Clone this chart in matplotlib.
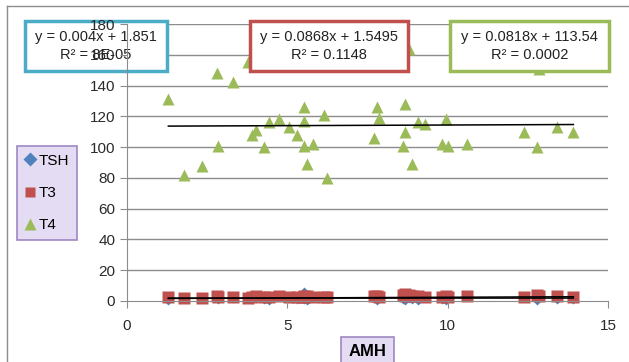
import matplotlib
matplotlib.use('Agg')
import matplotlib.pyplot as plt
from matplotlib.lines import Line2D
from matplotlib.patches import Rectangle
import numpy as np

W, H = 629, 362

amh = [1.29, 1.78, 2.33, 2.82, 2.84, 3.31, 3.78, 3.89, 4.02, 4.28,
       4.43, 4.75, 5.06, 5.31, 5.52, 5.52, 5.52, 5.61, 5.81, 6.14,
       6.23, 7.70, 7.80, 7.86, 8.60, 8.67, 8.67, 8.80, 8.90, 9.08,
       9.29, 9.83, 9.94, 10.02, 10.61, 12.38, 12.78, 12.85, 13.40, 13.92]
t4 = [131, 82, 88, 148, 101, 142, 155, 108, 111, 100,
      116, 118, 113, 108, 126, 117, 101, 89, 102, 121,
      80, 106, 126, 119, 101, 128, 110, 164, 89, 116,
      115, 102, 118, 101, 102, 110, 100, 151, 113, 110]
t3 = [2.6, 2.0, 2.0, 3.4, 2.4, 2.9, 2.2, 2.8, 3.1, 2.3,
      2.6, 3.0, 2.7, 2.5, 3.3, 2.9, 2.4, 3.0, 2.6, 2.5,
      2.3, 3.4, 3.0, 2.6, 3.9, 4.3, 3.4, 3.8, 3.5, 3.2,
      2.8, 2.9, 3.1, 2.7, 3.0, 2.6, 3.6, 3.2, 3.0, 2.5]
tsh = [0.2, 1.4, 1.0, 2.5, 0.8, 1.6, 2.2, 0.4, 1.8, 0.6,
       0.3, 2.8, 1.2, 0.4, 6.5, 0.5, 2.0, 0.2, 3.0, 2.4,
       3.5, 1.9, 0.3, 2.6, 0.5, 3.2, 0.2, 1.1, 0.5, 0.3,
       2.9, 0.4, 0.2, 3.1, 4.0, 1.7, 0.3, 2.5, 0.4, 0.5]

series = ['TSH', 'T3', 'T4']
colors = {'TSH': '#4f81bd', 'T3': '#c0504d', 'T4': '#9bbb59'}
box_colors = {'TSH': '#4bacc6', 'T3': '#c0504d', 'T4': '#9bbb59'}
slopes = {'TSH': 0.004, 'T3': 0.0868, 'T4': 0.0818}
intercepts = {'TSH': 1.851, 'T3': 1.5495, 'T4': 113.54}
eq_labels = {'TSH': 'y = 0.004x + 1.851\nR² = 8E-05',
             'T3': 'y = 0.0868x + 1.5495\nR² = 0.1148',
             'T4': 'y = 0.0818x + 113.54\nR² = 0.0002'}


def fig_xy(px, py):
    """Pixel position (from top left) to figure fraction"""
    return px / W, 1 - py / H


def plot_chart():
    plt.rcParams['font.family'] = ['Liberation Sans', 'DejaVu Sans']
    fig = plt.figure(figsize=(W / 100, H / 100), dpi=100)
    ax = fig.add_axes([127 / W, 61 / H, 481 / W, 277 / H])

    ax.set_xlim(0, 15)
    ax.set_ylim(0, 180)
    ax.set_xticks([0, 5, 10, 15])
    ax.set_yticks(np.arange(0, 181, 20))
    for y in np.arange(20, 181, 20):
        ax.axhline(y, color='#8c8c8c', lw=1, zorder=0.8)
    for side in ('top', 'right'):
        ax.spines[side].set_visible(False)
    for side in ('left', 'bottom'):
        ax.spines[side].set_color('#8c8c8c')
    ax.tick_params(colors='#8c8c8c', labelcolor='#2a2a2a', labelsize=11,
                   length=5, direction='out')
    ax.tick_params(axis='x', pad=8)
    ax.set_axisbelow(False)

    x = np.array(amh)
    data = {'TSH': tsh, 'T3': t3, 'T4': t4}
    marker = {'TSH': ('D', 4.5), 'T3': ('s', 8), 'T4': ('^', 9)}
    for name in ['T4', 'TSH', 'T3']:
        m, s = marker[name]
        ax.plot(x, data[name], ls='none', marker=m, ms=s, mec='none',
                color=colors[name], zorder=1.2, clip_on=False)
    xs = np.array([x.min(), x.max()])
    for name in series:
        ax.plot(xs, slopes[name] * xs + intercepts[name], color='black',
                lw=1.1, zorder=1.5)

    boxes = {'TSH': (25, 21, 167, 71), 'T3': (250, 21, 408, 71),
             'T4': (450, 21, 609, 71)}
    for name, (x0, y0, x1, y1) in boxes.items():
        fx0, fy1 = fig_xy(x0, y1)
        fx1, fy0 = fig_xy(x1, y0)
        ax.add_patch(Rectangle((fx0, fy1), fx1 - fx0, fy0 - fy1,
                               transform=fig.transFigure, facecolor='white',
                               edgecolor=box_colors[name], lw=2.5,
                               clip_on=False, zorder=2))
        ax.text((fx0 + fx1) / 2, (fy0 + fy1) / 2, eq_labels[name],
                transform=fig.transFigure, ha='center', va='center',
                fontsize=10.5, color='#222222', linespacing=1.45,
                clip_on=False, zorder=2.1)

    handles = [Line2D([], [], ls='none', marker=marker[n][0],
                      ms=marker[n][1] * 0.9 if n != 'TSH' else 7,
                      mec='none', color=colors[n]) for n in series]
    leg = ax.legend(handles, series, loc='upper left',
                    bbox_to_anchor=fig_xy(17, 146),
                    bbox_transform=fig.transFigure, fontsize=11,
                    labelspacing=1.2, handlelength=0.7, handletextpad=0.2,
                    borderpad=0.5, borderaxespad=0, fancybox=False,
                    facecolor='#e4dcf2', edgecolor='#9f87c4', framealpha=1)
    leg.get_frame().set_linewidth(1.2)

    ax.set_xlabel('AMH', fontsize=12, fontweight='bold', labelpad=8,
                  bbox=dict(boxstyle='square,pad=0.45', facecolor='#e4dcf2',
                            edgecolor='#9f87c4', lw=1.2))

    # outer chart border
    fig.add_artist(Line2D([7 / W, 7 / W], [0, 1 - 6 / H], color='#8c8c8c',
                          lw=1, transform=fig.transFigure))
    fig.add_artist(Line2D([7 / W, 1], [1 - 6 / H, 1 - 6 / H], color='#8c8c8c',
                          lw=1, transform=fig.transFigure))

    fig.savefig('out.png', dpi=100)


if __name__ == '__main__':
    plot_chart()
